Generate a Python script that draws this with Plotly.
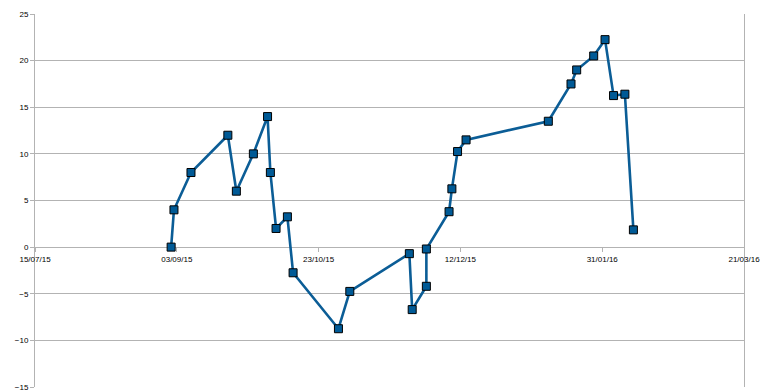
import plotly.graph_objects as go

dates = ["2015-09-01", "2015-09-02", "2015-09-08", "2015-09-21", "2015-09-24",
         "2015-09-30", "2015-10-05", "2015-10-06", "2015-10-08", "2015-10-12",
         "2015-10-14", "2015-10-30", "2015-11-03", "2015-11-24", "2015-11-25",
         "2015-11-30", "2015-11-30", "2015-12-08", "2015-12-09", "2015-12-11",
         "2015-12-14", "2016-01-12", "2016-01-20", "2016-01-22", "2016-01-28",
         "2016-02-01", "2016-02-04", "2016-02-08", "2016-02-11"]
values = [0, 4, 8, 12, 6, 10, 14, 8, 2, 3.25, -2.75, -8.75, -4.75, -0.7, -6.7,
          -4.2, -0.2, 3.8, 6.25, 10.25, 11.5, 13.5, 17.5, 19, 20.5, 22.25,
          16.25, 16.4, 1.85]

x_range = ["2015-07-15", "2016-03-21"]
y_ticks = [-15, -10, -5, 0, 5, 10, 15, 20, 25]

blue = "#0b5d96"
grid = "#b3b3b3"

fig = go.Figure()
fig.add_trace(go.Scatter(
    x=dates, y=values, mode="lines+markers",
    line=dict(color=blue, width=2.6),
    marker=dict(symbol="square", size=8, color="#005a96",
                line=dict(color="#000000", width=1)),
    showlegend=False,
))

fig.update_layout(
    width=763, height=392,
    margin=dict(l=35, r=19, t=14, b=5),
    paper_bgcolor="white", plot_bgcolor="white",
    font=dict(family="Liberation Sans, Arial, sans-serif", size=8, color="#000000"),
    xaxis=dict(
        type="date", range=x_range,
        tick0=x_range[0], dtick=50 * 86400000,
        tickformat="%d/%m/%y",
        showgrid=False, zeroline=False, showline=False,
        anchor="free", position=0.375, automargin=False,
        ticks="outside", ticklen=4, tickcolor=grid, tickwidth=1,
    ),
    yaxis=dict(
        range=[-15, 25], tickvals=y_ticks, automargin=False,
        showgrid=True, gridcolor=grid, gridwidth=1,
        zeroline=False,
        showline=True, mirror=True, linecolor=grid, linewidth=1,
        ticks="outside", ticklen=4, tickcolor=grid, tickwidth=1,
    ),
)

fig.write_html(
    "out.html",
    config={"displayModeBar": False},
    post_script="document.body.style.margin='0';document.body.style.overflow='hidden';",
)
